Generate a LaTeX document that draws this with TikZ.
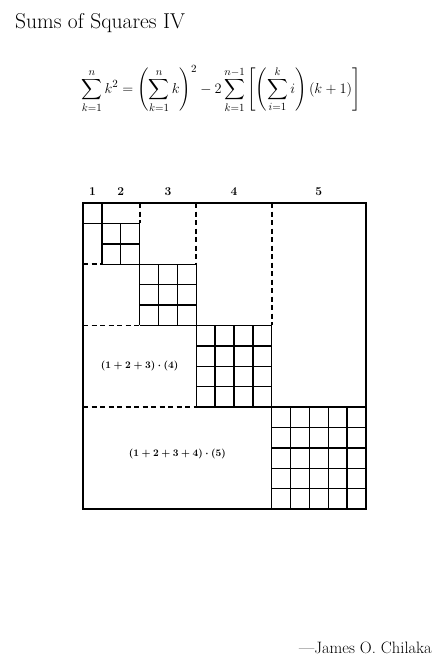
\documentclass[tikz,border=0pt]{standalone}
\usepackage{amsmath}
\begin{document}
\begin{tikzpicture}[x=1pt,y=1pt,
  gridline/.style={line width=1.4pt},
  outer/.style={line width=1.9pt},
  dashline/.style={line width=1.8pt, dash pattern=on 5pt off 3.5pt},
  colnum/.style={font=\fontsize{12}{14}\selectfont\bfseries},
  inlabel/.style={font=\fontsize{10.2}{12}\selectfont\boldmath}]
\useasboundingbox (0,0) rectangle (443,-667);
\node[anchor=base west, font=\fontsize{21.5}{25}\selectfont, inner sep=0pt] (title) at (15,-28) {Sums of Squares IV};
\node[font=\fontsize{15}{18}\selectfont, inner sep=0pt] (formula) at (221,-89)
  {$\displaystyle\sum_{k=1}^{n}k^{2}=\left(\sum_{k=1}^{n}k\right)^{2}-2\sum_{k=1}^{n-1}\left[\left(\sum_{i=1}^{k}i\right)(k+1)\right]$};
\begin{scope}[shift={(83,-203)}, x=18.87pt, y=-20.4pt]
  % diagonal squares with grids
  \foreach \k/\s in {1/0,2/1,3/3,4/6,5/10}{
    \foreach \j in {0,...,\k}{
      \draw[gridline] (\s+\j,\s) -- (\s+\j,\s+\k);
      \draw[gridline] (\s,\s+\j) -- (\s+\k,\s+\j);
    }
  }
  % dashed separators
  \draw[dashline] (3,0) -- (3,1);
  \draw[dashline] (6,0) -- (6,3);
  \draw[dashline] (10,0) -- (10,6);
  \draw[dashline] (0,3) -- (1,3);
  \draw[dashline] (0,6) -- (3,6);
  \draw[dashline] (0,10) -- (6,10);
  % outer border
  \draw[outer] (0,0) rectangle (15,15);
  % column numbers
  \node[colnum] (c1) at (0.5,-0.55) {1};
  \node[colnum] (c2) at (2,-0.55) {2};
  \node[colnum] (c3) at (4.5,-0.55) {3};
  \node[colnum] (c4) at (8,-0.55) {4};
  \node[colnum] (c5) at (12.5,-0.55) {5};
  % interior labels
  \node[inlabel] (l4) at (3,8) {$(1+2+3)\cdot(4)$};
  \node[inlabel] (l5) at (5,12.3) {$(1+2+3+4)\cdot(5)$};
\end{scope}
\node[anchor=base east, font=\fontsize{16.5}{19}\selectfont, inner sep=0pt] (author) at (432,-653) {---James O. Chilaka};
\end{tikzpicture}
\end{document}
